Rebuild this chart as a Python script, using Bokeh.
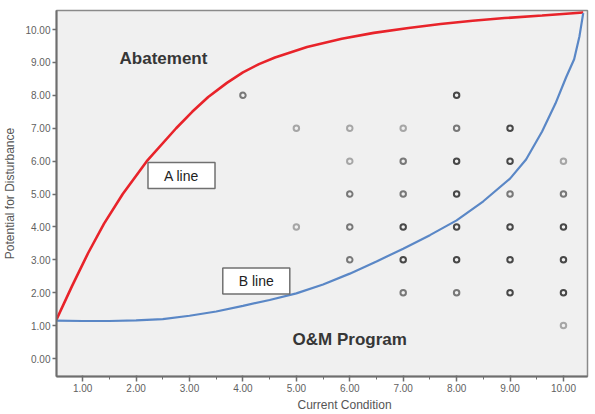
from bokeh.plotting import figure
from bokeh.models import FixedTicker, NumeralTickFormatter, Label, ColumnDataSource, Range1d, Title
from bokeh.embed import file_html
from bokeh.resources import INLINE

# --- data ---
cond_x = [4, 5, 5, 6, 6, 6, 6, 6, 7, 7, 7, 7, 7, 7, 8, 8, 8, 8, 8, 8, 8,
          9, 9, 9, 9, 9, 9, 10, 10, 10, 10, 10, 10]
dist_y = [8, 7, 4, 7, 6, 5, 4, 3, 7, 6, 5, 4, 3, 2, 8, 7, 6, 5, 4, 3, 2,
          7, 6, 5, 4, 3, 2, 6, 5, 4, 3, 2, 1]
overlap = [2, 1, 1, 1, 1, 2, 2, 2, 1, 2, 2, 3, 3, 2, 3, 2, 3, 3, 3, 3, 2,
           3, 3, 2, 3, 3, 3, 1, 2, 3, 3, 3, 1]

a_line_x = [0.5, 0.8, 1.1, 1.4, 1.75, 2.2, 2.75, 3.05, 3.35, 3.7, 4.0, 4.3, 4.6, 5.2, 5.85, 6.45,
            7.1, 7.7, 8.3, 8.9, 9.6, 10.37]
a_line_y = [1.15, 2.2, 3.2, 4.1, 5.0, 6.0, 7.0, 7.5, 7.95, 8.38, 8.7, 8.95, 9.15, 9.47, 9.72, 9.9,
            10.05, 10.17, 10.27, 10.35, 10.43, 10.52]

b_line_x = [0.5, 1.0, 1.5, 2.0, 2.5, 3.0, 3.5, 4.0, 4.5, 5.0, 5.5, 6.0, 6.5, 7.0,
            7.5, 8.0, 8.5, 9.0, 9.3, 9.6, 9.85, 10.05, 10.2, 10.3, 10.37]
b_line_y = [1.15, 1.14, 1.14, 1.16, 1.2, 1.3, 1.43, 1.6, 1.78, 1.98, 2.25, 2.58, 2.95, 3.34,
            3.75, 4.2, 4.78, 5.47, 6.05, 6.9, 7.75, 8.55, 9.1, 9.8, 10.5]

x_ticks = [1, 2, 3, 4, 5, 6, 7, 8, 9, 10]
y_ticks = [0, 1, 2, 3, 4, 5, 6, 7, 8, 9, 10]

shade = {1: "#a6a6a6", 2: "#787878", 3: "#484848"}
colors = [shade[k] for k in overlap]

FONT = "Liberation Sans"

p = figure(width=595, height=414, output_backend="svg", toolbar_location=None,
           x_range=Range1d(0.51, 10.45), y_range=Range1d(-0.547, 10.58),
           min_border_left=56, min_border_right=8, min_border_top=10, min_border_bottom=38)
p.background_fill_color = "#f0f0f0"
p.border_fill_color = "white"
p.outline_line_color = "#8a8a8a"
p.outline_line_width = 1.5
p.grid.visible = False

# axes
p.xaxis.ticker = FixedTicker(ticks=x_ticks, minor_ticks=[t + 0.5 for t in x_ticks[:-1]])
p.yaxis.ticker = FixedTicker(ticks=y_ticks, minor_ticks=[])
for ax in (p.xaxis[0], p.yaxis[0]):
    ax.formatter = NumeralTickFormatter(format="0.00")
    ax.axis_line_color = "#6e6e6e"
    ax.axis_line_width = 2
    ax.major_tick_line_color = "#6e6e6e"
    ax.major_tick_line_width = 1.5
    ax.minor_tick_line_color = "#6e6e6e"
    ax.major_label_text_font = FONT
    ax.major_label_text_font_size = "10px"
    ax.major_label_text_color = "#5f5f5f"
    ax.major_label_standoff = 2
p.xaxis.major_tick_in = 1
p.xaxis.major_tick_out = 5
p.xaxis.minor_tick_in = 0
p.xaxis.minor_tick_out = 3
p.yaxis.major_tick_in = 0
p.yaxis.major_tick_out = 4

p.yaxis.axis_label = "Potential for Disturbance"
p.yaxis.axis_label_text_font = FONT
p.yaxis.axis_label_text_font_size = "12px"
p.yaxis.axis_label_text_font_style = "normal"
p.yaxis.axis_label_text_color = "#555555"
p.yaxis.axis_label_standoff = 5

p.add_layout(Title(text="Current Condition", align="left", offset=241,
                   text_font=FONT, text_font_size="12px", text_font_style="normal",
                   text_color="#555555", standoff=3), "below")

# data points
src = ColumnDataSource(dict(x=cond_x, y=dist_y, c=colors))
p.scatter("x", "y", source=src, marker="circle", size=5.5, fill_color=None,
          line_color="c", line_width=2)

# curves
p.line(a_line_x, a_line_y, line_color="#e8232a", line_width=2.6)
p.line(b_line_x, b_line_y, line_color="#5a87c6", line_width=2.2)

# region annotations
p.add_layout(Label(x=1.69, y=9.12, text="Abatement", text_font=FONT, text_font_size="17px",
                   text_font_style="bold", text_color="#363636",
                   text_baseline="middle", text_align="left"))
p.add_layout(Label(x=4.93, y=0.58, text="O&M Program", text_font=FONT, text_font_size="17px",
                   text_font_style="bold", text_color="#363636",
                   text_baseline="middle", text_align="left"))
p.add_layout(Label(x=2.85, y=5.56, text="A line", text_font=FONT, text_font_size="14px",
                   text_color="#222222", text_baseline="middle", text_align="center",
                   background_fill_color="white", border_line_color="#707070",
                   border_line_width=1.5, padding=(16, 5)))
p.add_layout(Label(x=4.25, y=2.36, text="B line", text_font=FONT, text_font_size="14px",
                   text_color="#222222", text_baseline="middle", text_align="center",
                   background_fill_color="white", border_line_color="#707070",
                   border_line_width=1.5, padding=(16, 5)))

open("out.html", "w").write(file_html(p, INLINE))
